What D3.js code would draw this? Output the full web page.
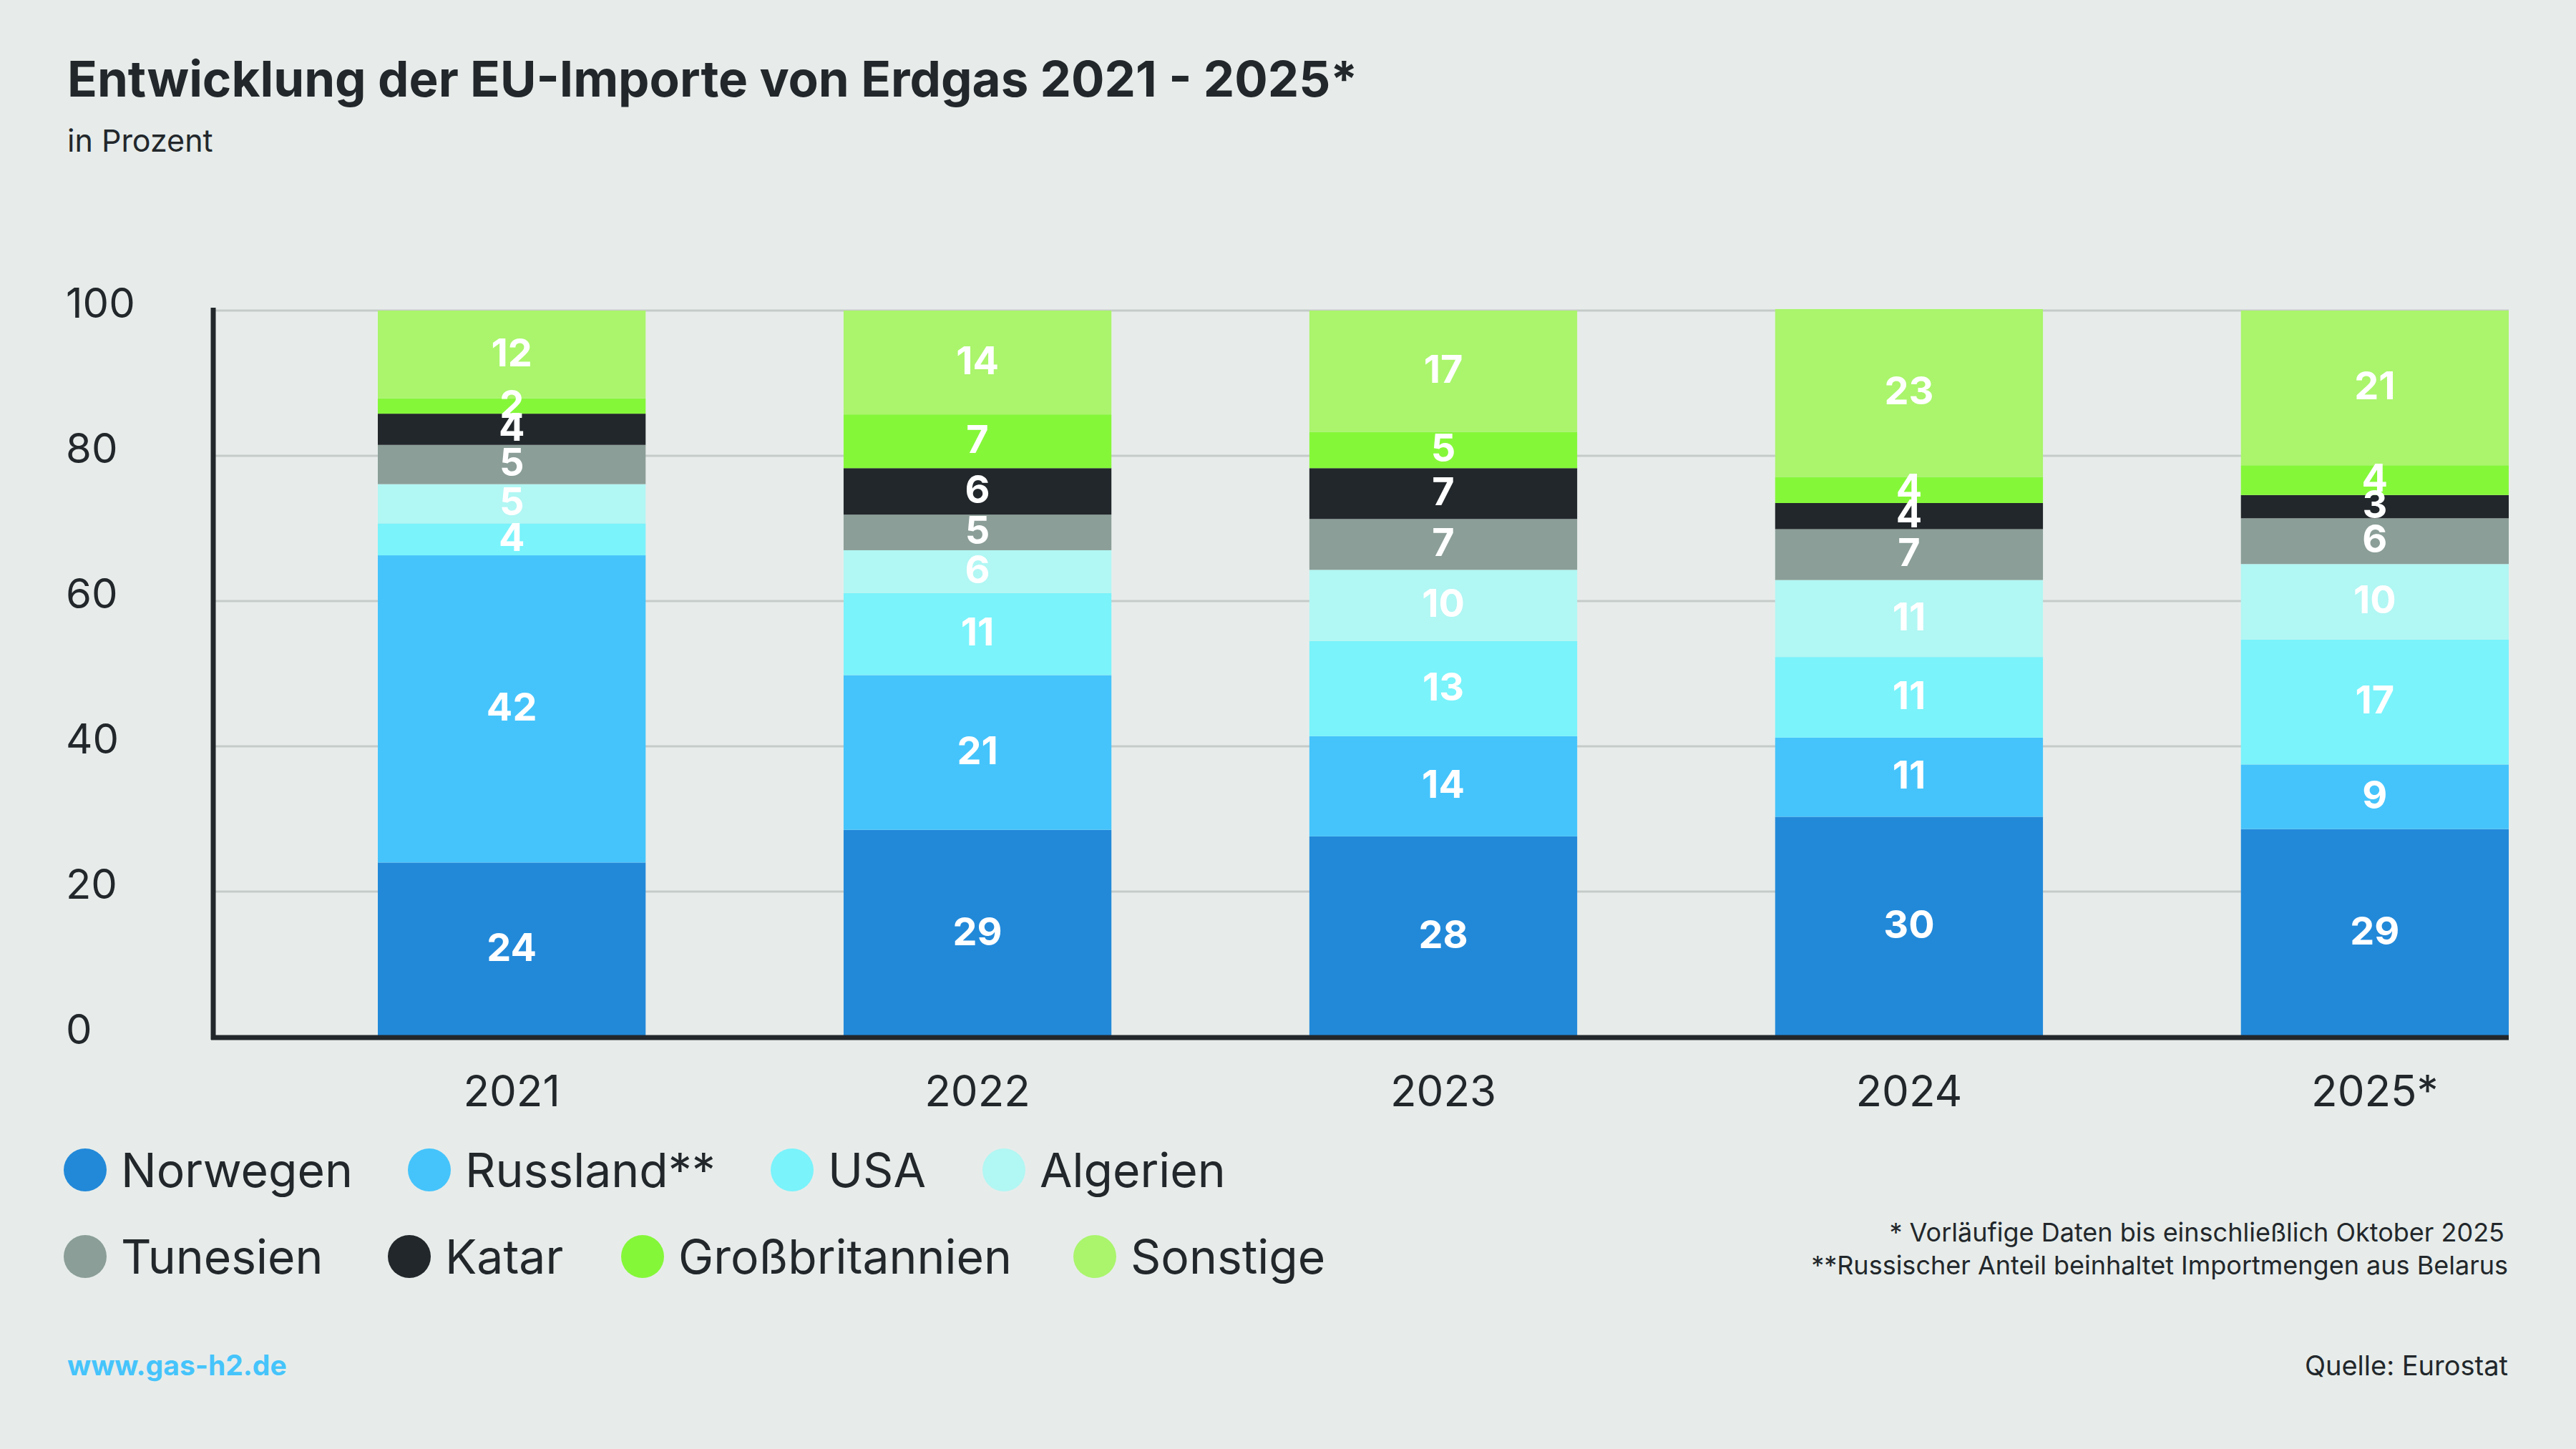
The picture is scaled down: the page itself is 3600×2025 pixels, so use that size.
<!DOCTYPE html>
<html>
<head>
<meta charset="utf-8">
<script src="https://cdn.jsdelivr.net/npm/d3@7"></script>
<style>
  body { margin: 0; background: #e7ecea; }
  text { font-family: Inter, "Liberation Sans", sans-serif; }
</style>
</head>
<body>
<svg id="chart" width="3600" height="2025"></svg>
<script>
// data (percent; labels show rounded values)
var years = ["2021", "2022", "2023", "2024", "2025*"];
var countries = ["Norwegen", "Russland**", "USA", "Algerien", "Tunesien", "Katar", "Großbritannien", "Sonstige"];
var norwegen  = [24.0, 28.5, 27.6, 30.3, 28.6];
var russland  = [42.3, 21.3, 13.8, 10.9, 8.9];
var usa       = [4.4, 11.3, 13.1, 11.1, 17.2];
var algerien  = [5.4, 5.9, 9.8, 10.6, 10.4];
var tunesien  = [5.4, 4.9, 7.0, 7.0, 6.3];
var katar     = [4.3, 6.4, 7.0, 3.6, 3.2];
var gb        = [2.1, 7.4, 5.0, 3.6, 4.1];
var sonstige  = [12.1, 14.3, 16.7, 23.1, 21.3];
var colors = ["#2289d9", "#45c4fb", "#7af3fb", "#b1f7f4", "#8b9e98", "#22272b", "#85f739", "#aaf56c"];
var yTicks = [0, 20, 40, 60, 80, 100];

var series = [norwegen, russland, usa, algerien, tunesien, katar, gb, sonstige];
var rows = years.map(function(y, i) {
  var r = { year: y };
  countries.forEach(function(c, k) { r[c] = series[k][i]; });
  return r;
});

var svg = d3.select("#chart");
svg.append("rect").attr("width", 3600).attr("height", 2025).attr("fill", "#e7ecea");

svg.append("text").attr("x", 94).attr("y", 135).attr("font-size", 69).attr("font-weight", 700)
  .attr("fill", "#22272b").text("Entwicklung der EU-Importe von Erdgas 2021 - 2025*");
svg.append("text").attr("x", 94).attr("y", 212).attr("font-size", 43)
  .attr("fill", "#22272b").text("in Prozent");

var x = d3.scaleBand().domain(years).range([528, 3506]).paddingInner(0.425).paddingOuter(0);
var y = d3.scaleLinear().domain([0, 100]).range([1449, 434]);

// grid
svg.append("g").selectAll("line").data(yTicks.slice(1)).join("line")
  .attr("x1", 298).attr("x2", 3506)
  .attr("y1", d => y(d)).attr("y2", d => y(d))
  .attr("stroke", "#c5cbc9").attr("stroke-width", 3);

svg.append("g").selectAll("text").data(yTicks).join("text")
  .attr("x", 92).attr("y", d => y(d) - 10).attr("dy", "0.35em")
  .attr("font-size", 58).attr("fill", "#22272b").text(d => d);

var stack = d3.stack().keys(countries)(rows);

var layer = svg.append("g").selectAll("g").data(stack).join("g")
  .attr("fill", (d, i) => colors[i]);
layer.selectAll("rect").data(d => d).join("rect")
  .attr("x", d => x(d.data.year))
  .attr("width", x.bandwidth())
  .attr("y", d => y(d[1]))
  .attr("height", d => y(d[0]) - y(d[1]));

var lab = svg.append("g").selectAll("g").data(stack).join("g");
lab.selectAll("text").data(d => d).join("text")
  .attr("x", d => x(d.data.year) + x.bandwidth() / 2)
  .attr("y", d => (y(d[0]) + y(d[1])) / 2)
  .attr("dy", "0.3em")
  .attr("text-anchor", "middle")
  .attr("font-size", 54).attr("font-weight", 700).attr("fill", "#ffffff")
  .text(d => Math.round(d[1] - d[0]));

// axes lines
svg.append("line").attr("x1", 298).attr("x2", 298).attr("y1", 430).attr("y2", 1453)
  .attr("stroke", "#22272b").attr("stroke-width", 7);
svg.append("line").attr("x1", 295).attr("x2", 3506).attr("y1", 1450).attr("y2", 1450)
  .attr("stroke", "#22272b").attr("stroke-width", 7);

svg.append("g").selectAll("text").data(years).join("text")
  .attr("x", d => x(d) + x.bandwidth() / 2).attr("y", 1546)
  .attr("text-anchor", "middle").attr("font-size", 60).attr("fill", "#22272b").text(d => d);

// legend
var legendPos = [[119, 1635], [600, 1635], [1107, 1635], [1403, 1635],
                 [119, 1756], [572, 1756], [898, 1756], [1530, 1756]];
var leg = svg.append("g").selectAll("g").data(countries).join("g")
  .attr("transform", (d, i) => "translate(" + legendPos[i][0] + "," + legendPos[i][1] + ")");
leg.append("circle").attr("r", 30).attr("fill", (d, i) => colors[i]);
leg.append("text").attr("x", 50).attr("dy", "0.36em").attr("font-size", 66)
  .attr("fill", "#22272b").text(d => d);

svg.append("text").attr("x", 3500).attr("y", 1735).attr("text-anchor", "end")
  .attr("font-size", 36).attr("fill", "#22272b").text("* Vorläufige Daten bis einschließlich Oktober 2025");
svg.append("text").attr("x", 3505).attr("y", 1781).attr("text-anchor", "end")
  .attr("font-size", 36).attr("fill", "#22272b").text("**Russischer Anteil beinhaltet Importmengen aus Belarus");

svg.append("text").attr("x", 94).attr("y", 1922).attr("font-size", 39).attr("font-weight", 700)
  .attr("fill", "#45c4fb").text("www.gas-h2.de");
svg.append("text").attr("x", 3505).attr("y", 1922).attr("text-anchor", "end").attr("font-size", 38)
  .attr("fill", "#22272b").text("Quelle: Eurostat");
</script>
</body>
</html>
